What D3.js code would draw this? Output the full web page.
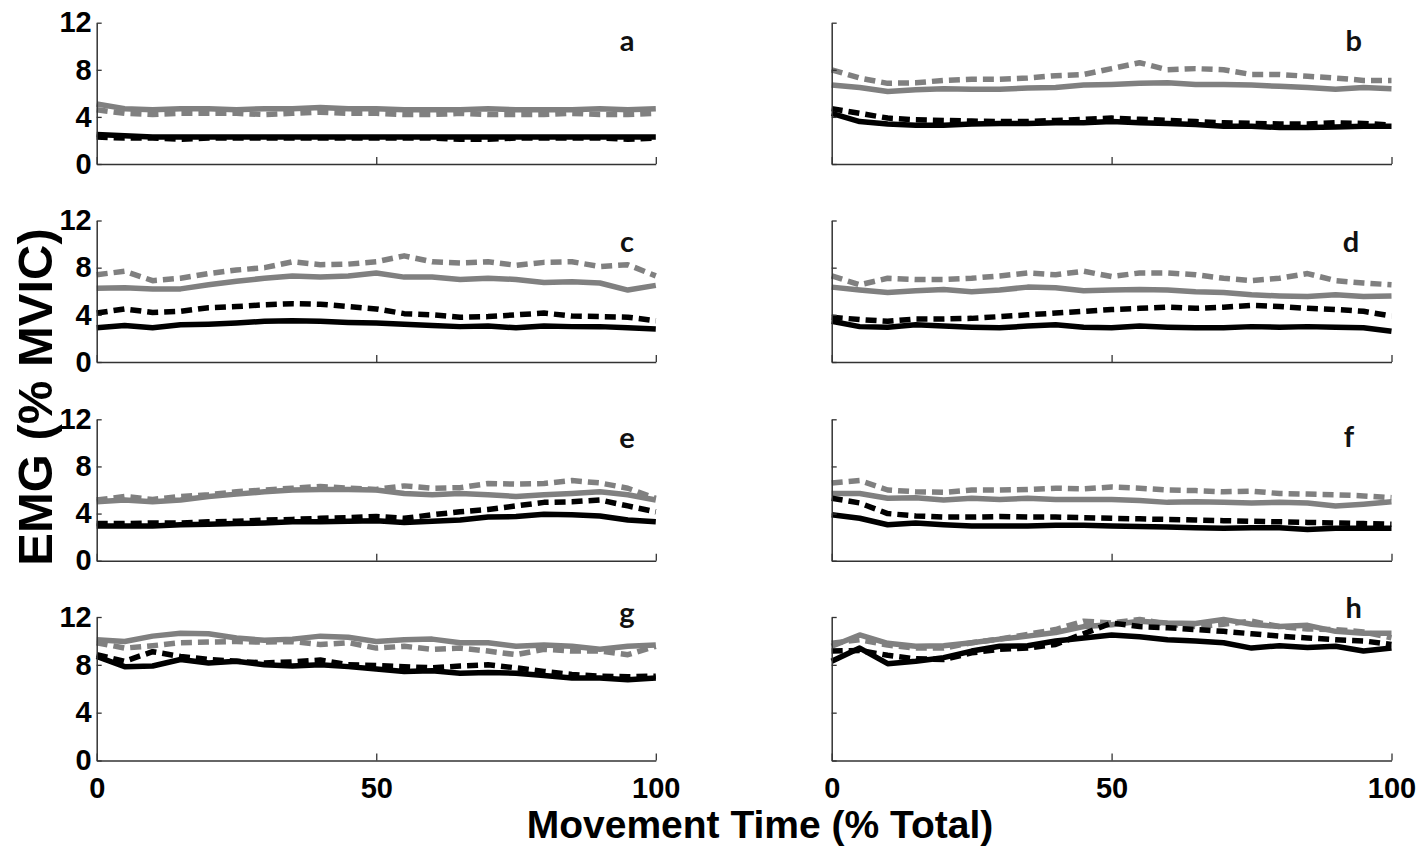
<!DOCTYPE html>
<html>
<head>
<meta charset="utf-8">
<script src="https://cdn.jsdelivr.net/npm/d3@7"></script>
<style>
  html, body { margin: 0; padding: 0; background: #fff; }
  svg { display: block; }
</style>
</head>
<body>
<div id="chart"></div>
<script>
// ---------------- DATA ----------------
const xValues = [0,5,10,15,20,25,30,35,40,45,50,55,60,65,70,75,80,85,90,95,100];
const xTicks = [0, 50, 100];
const yTicks = [0, 4, 8, 12];
const panelLabels = ["a","b","c","d","e","f","g","h"];
const xTitle = "Movement Time (% Total)";
const yTitle = "EMG (% MVIC)";

// a
const aGraySolid  = [5.1,4.7,4.6,4.7,4.7,4.6,4.7,4.7,4.8,4.7,4.7,4.6,4.6,4.6,4.7,4.6,4.6,4.6,4.7,4.6,4.7];
const aGrayDashed = [4.6,4.3,4.2,4.3,4.3,4.3,4.2,4.3,4.4,4.3,4.3,4.2,4.2,4.3,4.2,4.2,4.2,4.3,4.2,4.2,4.3];
const aBlackSolid = [2.5,2.4,2.3,2.3,2.3,2.3,2.3,2.3,2.3,2.3,2.3,2.3,2.3,2.3,2.3,2.3,2.3,2.3,2.3,2.3,2.3];
const aBlackDashed= [2.3,2.2,2.2,2.1,2.2,2.2,2.2,2.2,2.2,2.2,2.2,2.2,2.2,2.1,2.1,2.2,2.2,2.2,2.2,2.1,2.2];
// b
const bGraySolid  = [6.7,6.5,6.15,6.3,6.4,6.35,6.35,6.45,6.5,6.7,6.75,6.85,6.9,6.75,6.75,6.7,6.6,6.5,6.35,6.5,6.4];
const bGrayDashed = [8.0,7.3,6.85,6.9,7.1,7.2,7.2,7.3,7.5,7.6,8.1,8.6,8.0,8.1,8.0,7.6,7.6,7.45,7.3,7.1,7.1];
const bBlackSolid = [4.3,3.6,3.4,3.3,3.3,3.4,3.45,3.45,3.5,3.5,3.6,3.5,3.45,3.35,3.2,3.2,3.1,3.1,3.15,3.2,3.2];
const bBlackDashed= [4.7,4.3,3.9,3.75,3.7,3.65,3.6,3.6,3.7,3.8,3.9,3.8,3.7,3.6,3.5,3.45,3.4,3.4,3.5,3.45,3.3];
// c
const cGraySolid  = [6.25,6.3,6.2,6.2,6.55,6.85,7.1,7.3,7.2,7.3,7.55,7.2,7.2,7.0,7.1,7.0,6.75,6.8,6.7,6.1,6.5];
const cGrayDashed = [7.4,7.7,6.9,7.1,7.5,7.8,8.0,8.5,8.25,8.3,8.5,9.0,8.5,8.4,8.5,8.2,8.45,8.5,8.1,8.25,7.3];
const cBlackSolid = [2.9,3.1,2.9,3.15,3.2,3.3,3.45,3.5,3.45,3.35,3.3,3.2,3.1,3.0,3.05,2.9,3.05,3.0,3.0,2.9,2.8];
const cBlackDashed= [4.15,4.5,4.2,4.3,4.6,4.7,4.85,4.95,4.9,4.7,4.5,4.1,4.0,3.8,3.85,4.0,4.15,3.9,3.85,3.8,3.5];
// d
const dGraySolid  = [6.35,6.1,5.9,6.05,6.15,5.95,6.1,6.35,6.3,6.05,6.1,6.15,6.1,5.95,5.9,5.7,5.6,5.55,5.7,5.55,5.6];
const dGrayDashed = [7.3,6.55,7.1,7.0,7.0,7.1,7.3,7.55,7.4,7.7,7.25,7.55,7.55,7.4,7.1,6.9,7.1,7.5,6.9,6.7,6.55];
const dBlackSolid = [3.45,3.0,2.95,3.15,3.05,2.95,2.9,3.05,3.15,2.95,2.9,3.05,2.95,2.9,2.9,3.0,2.95,3.0,2.95,2.9,2.6];
const dBlackDashed= [3.8,3.6,3.45,3.65,3.65,3.7,3.85,4.0,4.15,4.3,4.45,4.55,4.65,4.55,4.65,4.8,4.7,4.55,4.45,4.3,3.9];
// e
const eGraySolid  = [5.0,5.15,5.0,5.15,5.45,5.65,5.85,6.0,6.05,6.05,6.0,5.7,5.6,5.7,5.6,5.45,5.6,5.7,5.85,5.6,5.15];
const eGrayDashed = [5.15,5.45,5.2,5.45,5.6,5.85,6.0,6.15,6.3,6.15,6.05,6.35,6.15,6.2,6.55,6.5,6.55,6.8,6.6,6.15,5.3];
const eBlackSolid = [2.95,2.95,2.95,3.05,3.1,3.15,3.2,3.3,3.3,3.35,3.4,3.25,3.35,3.45,3.7,3.75,3.95,3.9,3.8,3.45,3.3];
const eBlackDashed= [3.15,3.15,3.2,3.2,3.3,3.35,3.45,3.5,3.6,3.65,3.75,3.6,3.9,4.15,4.35,4.65,4.95,5.0,5.15,4.65,4.15];
// f
const fGraySolid  = [5.7,5.7,5.3,5.35,5.15,5.3,5.2,5.3,5.2,5.2,5.2,5.1,4.95,5.0,4.95,4.9,4.95,4.9,4.65,4.8,5.0];
const fGrayDashed = [6.6,6.8,6.0,5.85,5.8,6.0,6.0,6.05,6.15,6.1,6.25,6.15,6.0,5.95,5.85,5.9,5.7,5.65,5.6,5.5,5.35];
const fBlackSolid = [3.9,3.6,3.05,3.2,3.05,2.95,2.95,2.95,3.0,3.0,2.95,2.9,2.85,2.8,2.75,2.8,2.8,2.65,2.75,2.75,2.75];
const fBlackDashed= [5.3,4.9,4.0,3.8,3.7,3.7,3.75,3.7,3.7,3.65,3.6,3.55,3.5,3.45,3.4,3.35,3.3,3.25,3.2,3.15,3.1];
// g
const gGraySolid  = [10.1,9.95,10.4,10.65,10.6,10.25,10.05,10.15,10.4,10.3,9.95,10.1,10.15,9.85,9.85,9.55,9.65,9.55,9.3,9.55,9.65];
const gGrayDashed = [9.85,9.4,9.6,9.85,9.9,9.95,9.9,9.95,9.7,9.85,9.4,9.55,9.3,9.4,9.15,8.85,9.3,9.15,9.15,8.85,9.55];
const gBlackSolid = [8.7,7.85,7.9,8.45,8.15,8.3,8.0,7.9,8.0,7.85,7.65,7.45,7.5,7.3,7.35,7.3,7.1,6.9,6.9,6.75,6.9];
const gBlackDashed= [8.85,8.3,9.1,8.7,8.45,8.3,8.15,8.25,8.4,8.0,7.95,7.85,7.75,7.9,8.0,7.75,7.45,7.2,7.05,7.0,7.05];
// h
const hGraySolid  = [9.55,10.5,9.8,9.55,9.6,9.85,10.15,10.4,10.7,11.2,11.35,11.65,11.5,11.45,11.8,11.4,11.2,11.3,10.8,10.65,10.65];
const hGrayDashed = [9.8,10.1,9.65,9.4,9.4,9.85,10.15,10.55,10.95,11.65,11.5,11.8,11.4,11.2,11.4,11.65,11.2,11.0,10.95,10.75,10.25];
const hBlackSolid = [8.3,9.4,8.1,8.3,8.6,9.15,9.55,9.6,10.0,10.25,10.5,10.35,10.1,10.0,9.85,9.4,9.6,9.45,9.55,9.15,9.4];
const hBlackDashed= [9.15,9.2,8.8,8.5,8.45,9.0,9.3,9.4,9.7,10.6,11.5,11.2,11.1,10.95,10.8,10.6,10.4,10.25,10.1,10.0,9.7];

const panelSeries = [
  [aGrayDashed, aGraySolid, aBlackDashed, aBlackSolid],
  [bGrayDashed, bGraySolid, bBlackDashed, bBlackSolid],
  [cGrayDashed, cGraySolid, cBlackDashed, cBlackSolid],
  [dGrayDashed, dGraySolid, dBlackDashed, dBlackSolid],
  [eGrayDashed, eGraySolid, eBlackDashed, eBlackSolid],
  [fGrayDashed, fGraySolid, fBlackDashed, fBlackSolid],
  [gGrayDashed, gGraySolid, gBlackDashed, gBlackSolid],
  [hGrayDashed, hGraySolid, hBlackDashed, hBlackSolid]
];

// ---------------- LAYOUT / STYLE ----------------
const W = 1420, H = 851;
const colX = [[96.7, 655.8], [831.7, 1391.5]];
const rowY = [[22.7, 164], [220.5, 362], [419.3, 560.7], [617, 760.5]];
const seriesStyle = [
  {color: "#808080", dash: "11,6"},
  {color: "#808080", dash: null},
  {color: "#000000", dash: "11,6"},
  {color: "#000000", dash: null}
];
// letter offset: [dx from right end, baseline from top]
const letterOffset = [[28.8,28],[37.8,28],[28.8,31],[40.5,31],[28.8,29],[42.5,28],[28.8,6],[37.8,1]];

const svg = d3.select("#chart").append("svg")
  .attr("width", W).attr("height", H)
  .style("background", "#fff");

const axisColor = "#333";
const tickFont = "bold 29px 'Liberation Sans', Arial, sans-serif";

panelLabels.forEach((lab, i) => {
  const row = Math.floor(i / 2), col = i % 2;
  const x = d3.scaleLinear().domain([0, 100]).range(colX[col]);
  const y = d3.scaleLinear().domain([0, 12]).range([rowY[row][1], rowY[row][0]]);
  const g = svg.append("g");

  // lines
  panelSeries[i].forEach((vals, k) => {
    const st = seriesStyle[k];
    const line = d3.line().x((d, j) => x(xValues[j])).y(d => y(d));
    g.append("path")
      .datum(vals)
      .attr("d", line)
      .attr("fill", "none")
      .attr("stroke", st.color)
      .attr("stroke-width", 5.5)
      .attr("stroke-linejoin", "round")
      .attr("stroke-dasharray", st.dash);
  });

  // y axis
  const yAxis = d3.axisLeft(y).tickValues(yTicks).tickSizeInner(-5).tickSizeOuter(0).tickPadding(5);
  if (col === 1) yAxis.tickFormat("");
  const gy = g.append("g").attr("transform", `translate(${colX[col][0]},0)`).call(yAxis);
  // x axis
  const xAxis = d3.axisBottom(x).tickValues(xTicks).tickSizeInner(-7).tickSizeOuter(0).tickPadding(17);
  if (row !== 3) xAxis.tickFormat("");
  const gx = g.append("g").attr("transform", `translate(0,${rowY[row][1]})`).call(xAxis);

  [gy, gx].forEach(ax => {
    ax.select(".domain").attr("stroke", axisColor).attr("stroke-width", 1.5);
    ax.selectAll(".tick line").attr("stroke", axisColor).attr("stroke-width", 1.3);
    ax.selectAll(".tick text").attr("fill", "#000").style("font", tickFont);
  });

  // panel letter
  g.append("text")
    .attr("x", colX[col][1] - letterOffset[i][0])
    .attr("y", rowY[row][0] + letterOffset[i][1])
    .attr("text-anchor", "middle")
    .style("font", "bold 29px Lato, 'Open Sans', sans-serif")
    .attr("fill", "#111")
    .text(lab);
});

// axis titles
svg.append("text")
  .attr("x", 760).attr("y", 838)
  .attr("text-anchor", "middle")
  .style("font", "bold 39px 'Liberation Sans', Arial, sans-serif")
  .attr("fill", "#000")
  .text(xTitle);

svg.append("text")
  .attr("transform", "translate(52,397) rotate(-90)")
  .attr("text-anchor", "middle")
  .style("font", "bold 49px 'Liberation Sans', Arial, sans-serif")
  .attr("fill", "#000")
  .text(yTitle);
</script>
</body>
</html>
